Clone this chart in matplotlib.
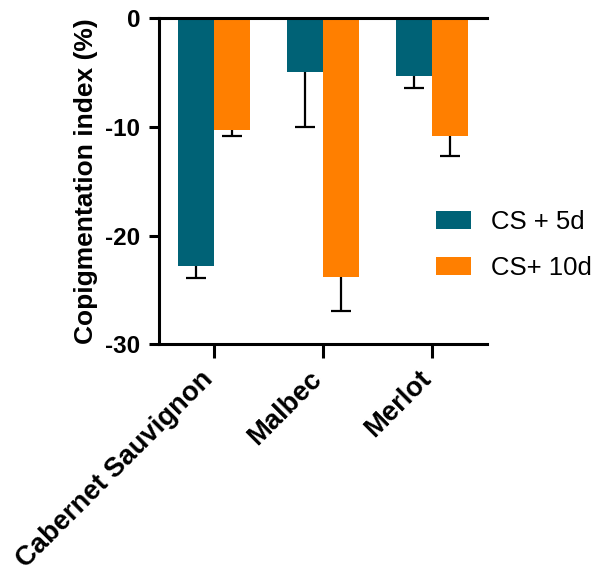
import numpy as np
import matplotlib
matplotlib.use("Agg")
import matplotlib.pyplot as plt

plt.rcParams["font.family"] = ["Liberation Sans", "DejaVu Sans"]

grapes = ["Cabernet Sauvignon", "Malbec", "Merlot"]
series_names = ["CS + 5d", "CS+ 10d"]
cs5 = np.array([-22.8, -4.95, -5.35])
cs5_err = np.array([1.1, 5.1, 1.13])
cs10 = np.array([-10.27, -23.8, -10.9])
cs10_err = np.array([0.58, 3.1, 1.8])
yticks = [0, -10, -20, -30]

teal = "#006276"
orange = "#FF7F00"

fig = plt.figure(figsize=(6.06, 5.75), dpi=100)
ax = fig.add_axes([0.263, 0.401, 0.540, 0.568])

x = np.arange(len(grapes))
w = 0.333
cap = 0.09

for offset, vals, errs, col, name in [(-w / 2, cs5, cs5_err, teal, series_names[0]),
                                      (w / 2, cs10, cs10_err, orange, series_names[1])]:
    ax.bar(x + offset, vals, w, color=col, label=name, zorder=2)
    # one-sided error bars, away from zero
    ax.vlines(x + offset, vals, vals - errs, color="black", lw=1.6, zorder=1)
    ax.hlines(vals - errs, x + offset - cap, x + offset + cap, color="black", lw=1.6, zorder=1)

ax.set_xlim(-0.5, 2.5)
ax.set_ylim(-30, 0)
ax.set_yticks(yticks)
ax.set_yticklabels([str(v) for v in yticks], fontsize=17.5, fontweight="bold")
ax.set_xticks(x)
ax.set_xticklabels(grapes, rotation=45, ha="right", va="baseline", rotation_mode="anchor",
                   fontsize=19.7, fontweight="bold")

for side in ["left", "bottom", "top"]:
    ax.spines[side].set_linewidth(2.2)
ax.spines["right"].set_visible(False)
ax.tick_params(axis="y", length=7, width=2.2, pad=6.6)
ax.tick_params(axis="x", length=10, width=2.2, pad=15.8)

ax.set_ylabel("Copigmentation index (%)", fontsize=19, fontweight="bold", labelpad=5)

fig.legend(loc="upper left", bbox_to_anchor=(0.72, 0.635), frameon=False,
           fontsize=18.5, handlelength=1.36, handleheight=0.74,
           handletextpad=0.78, labelspacing=0.86, borderpad=0, borderaxespad=0)

fig.savefig("out.png", dpi=100)
